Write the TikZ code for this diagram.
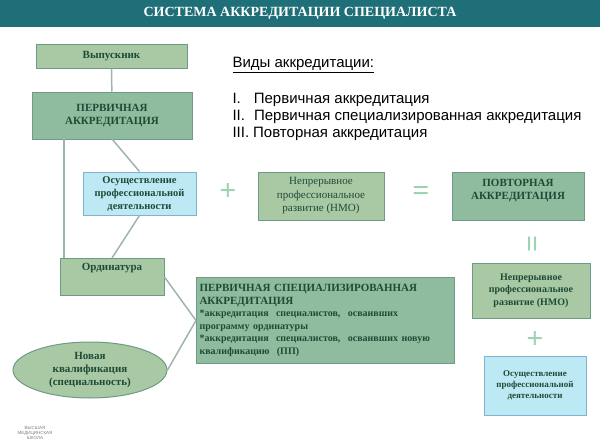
\documentclass[tikz,border=0pt]{standalone}
\usepackage{fontspec}
\setmainfont{Liberation Serif}
\newfontfamily\lsans{Liberation Sans}
\usetikzlibrary{shapes.geometric}
\definecolor{gbox}{HTML}{A9C9A4}
\definecolor{gdark}{HTML}{8FBC9E}
\definecolor{gline}{HTML}{6E9A86}
\definecolor{tgreen}{HTML}{1E4B36}
\definecolor{lblue}{HTML}{BDE9F5}
\definecolor{bline}{HTML}{7FB3CF}
\definecolor{conn}{HTML}{9DB5AE}
\definecolor{sym}{HTML}{9ED3B2}
\definecolor{title}{HTML}{1F6F78}
\begin{document}
\begin{tikzpicture}[x=1pt,y=-1pt,
 box/.style={draw=gline,line width=1pt,fill=gbox,text=tgreen,font=\bfseries\fontsize{11}{13}\selectfont,align=center,inner sep=2pt},
 bbox/.style={box,fill=lblue,draw=bline},
 con/.style={draw=conn,line width=1.5pt},
 symb/.style={text=sym,font=\bfseries\fontsize{30}{30}\selectfont}]
\useasboundingbox (0,0) rectangle (600,447);
\fill[title] (0,0) rectangle (600,27);
\node[text=white,font=\bfseries\fontsize{14}{16}\selectfont] (t) at (300,13) {СИСТЕМА АККРЕДИТАЦИИ СПЕЦИАЛИСТА};
\node[box,minimum width=151pt,minimum height=24pt] (v) at (111.5,56) {Выпускник};
\node[box,fill=gdark,minimum width=160pt,minimum height=47pt] (pa) at (112,115.5) {ПЕРВИЧНАЯ\\АККРЕДИТАЦИЯ};
\node[bbox,minimum width=113pt,minimum height=43pt,font=\bfseries\fontsize{10.5}{13}\selectfont] (os) at (139.5,193.5) {Осуществление\\профессиональной\\деятельности};
\node[box,anchor=north,minimum width=104pt,minimum height=37pt,text depth=20pt] (ord) at (112,258) {Ординатура};
\node[box,fill=gdark,text width=252pt,align=left,minimum height=86pt,anchor=north west,inner sep=3pt] (psa) at (196,277) {ПЕРВИЧНАЯ СПЕЦИАЛИЗИРОВАННАЯ\\АККРЕДИТАЦИЯ\\
{\fontsize{10}{12.5}\selectfont {*}аккредитация \ специалистов, \ осваивших\\программу ординатуры\\{*}аккредитация \ специалистов, \ осваивших новую\\квалификацию \ (ПП)}\\[8pt]};
\node[box,ellipse,minimum width=154pt,minimum height=56pt,inner sep=0pt] (nk) at (90,370) {Новая\\квалификация\\(специальность)};
\node[symb] (p1) at (228,192) {+};
\node[box,minimum width=126pt,minimum height=48pt,font=\fontsize{11}{13.5}\selectfont] (nmo) at (321,196) {Непрерывное\\профессиональное\\развитие (НМО)};
\node[symb] (e1) at (421,193) {=};
\node[box,fill=gdark,minimum width=132pt,minimum height=48pt,text depth=14pt] (pov) at (518,196) {ПОВТОРНАЯ\\АККРЕДИТАЦИЯ};
\node[symb,rotate=90] (e2) at (535,244) {=};
\node[box,minimum width=118pt,minimum height=55pt,font=\bfseries\fontsize{10}{12.5}\selectfont] (nmo2) at (531,290.5) {Непрерывное\\профессиональное\\развитие (НМО)};
\node[symb] (p2) at (535,340) {+};
\node[bbox,minimum width=102pt,minimum height=59pt,font=\bfseries\fontsize{9}{11}\selectfont] (os2) at (535,385.5) {Осуществление\\профессиональной\\деятельности};
\draw[con] (v) -- (pa);
\draw[con] (64,139) -- (64,258);
\draw[con] (112,139) -- (os.north);
\draw[con] (os.south) -- (112,258);
\draw[con] (ord.east) -- (psa.west);
\draw[con] (nk.east) -- (psa.west);
\node[anchor=north west,font=\lsans\fontsize{15}{17}\selectfont] (vid) at (229,54) {\underline{Виды аккредитации:}};
\node[anchor=north west,font=\lsans\fontsize{15}{17}\selectfont,align=left] (lst) at (229,90) {I.\hspace{13pt}Первичная аккредитация\\II.\hspace{9pt}Первичная специализированная аккредитация\\III.\hspace{4pt}Повторная аккредитация};
\node[font=\lsans\fontsize{4.5}{5}\selectfont,text=gray,align=center] (logo) at (35,433) {ВЫСШАЯ\\МЕДИЦИНСКАЯ\\ШКОЛА};
\end{tikzpicture}
\end{document}
